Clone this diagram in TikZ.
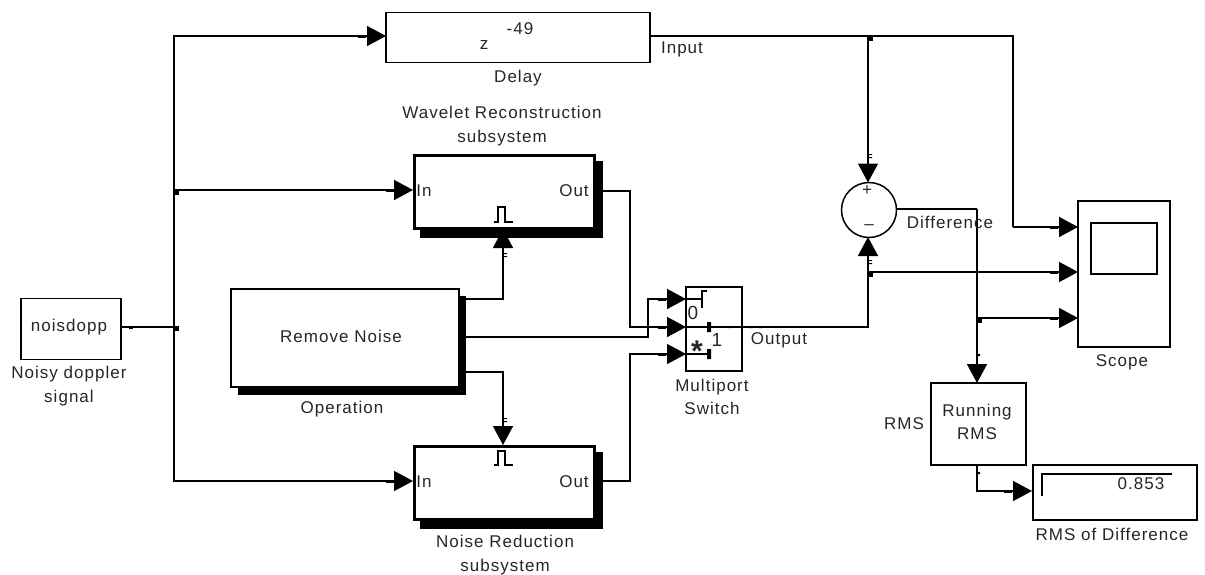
\documentclass[tikz,border=0pt]{standalone}
\usepackage{fontspec}
\setmainfont[LetterSpace=6]{Liberation Sans}
\usetikzlibrary{arrows.meta}
\newcommand{\hmark}[2]{\fill (#1-8,#2) rectangle (#1,#2+2);}
\newcommand{\vmark}[2]{\fill (#1,#2-2) rectangle (#1+4,#2-0.8) (#1,#2+1) rectangle (#1+4,#2+2.2);}
\newcommand{\jdot}[2]{\fill (#1,#2) rectangle (#1+4.5,#2+4.5);}
\tikzset{
  x=1pt,y=-1pt,
  every node/.style={font=\fontsize{17}{23.5}\selectfont,inner sep=0pt,outer sep=0pt,text=black!85},
  blockbox/.style={draw,line width=1.5pt,fill=white,anchor=north west},
  subsysbox/.style={draw,line width=3pt,fill=white,anchor=north west,minimum width=180pt,minimum height=73pt},
  lbl/.style={align=center},
  wire/.style={line width=1.5pt},
  arrowwire/.style={wire,-{Triangle[length=19pt,width=20pt]},shorten >=0pt},
}
\begin{document}
\begin{tikzpicture}
\useasboundingbox (0,0) rectangle (1205,574);
% shadows
\fill (420,161) rectangle (603,238);
\fill (420,452) rectangle (603,529);
\fill (238,296) rectangle (466,395);
% blocks
\node[blockbox,minimum width=100pt,minimum height=61pt] (noisy) at (21,298.5) {};
\node at (69,327) {noisdopp};
\node[blockbox,minimum width=264pt,minimum height=50pt] (delay) at (386,12.5) {};
\node[subsysbox] (wave) at (414.5,155.5) {};
\node[subsysbox] (reduce) at (414.5,446.5) {};
\node[blockbox,minimum width=228pt,minimum height=98pt] (op) at (231,289) {};
\node[blockbox,minimum width=56pt,minimum height=84pt] (sw) at (686,287) {};
\node[draw,circle,line width=1.5pt,fill=white,minimum size=55pt] (sum) at (869,210) {};
\node[blockbox,minimum width=92pt,minimum height=146pt] (scope) at (1078,201) {};
\node[draw,line width=1.5pt,anchor=north west,minimum width=66pt,minimum height=51pt] (screen) at (1091,223) {};
\node[blockbox,minimum width=95pt,minimum height=82pt] (rms) at (931,383) {};
\node[blockbox,minimum width=164pt,minimum height=55pt] (disp) at (1033,465) {};
% named points
\coordinate (jin) at (174,327);
\coordinate (jd) at (174,36);
\coordinate (jw) at (174,190);
\coordinate (jr) at (174,481);
\coordinate (dp) at (868,36);
\coordinate (tr) at (1013,36);
\coordinate (tr2) at (1013,227);
\coordinate (wo) at (630,191);
\coordinate (ro) at (630,481);
\coordinate (mo) at (868,327);
\coordinate (jo) at (868,272);
\coordinate (sd) at (977,209);
\coordinate (js) at (977,318);
\coordinate (ro2) at (977,491);
% connectors
\draw[wire] (noisy.east |- jin) -- (jin);
\draw[arrowwire] (jin) -- (jd) -- (386,36);
\draw[arrowwire] (jw) -- (413,190);
\draw[arrowwire] (jin) -- (jr) -- (413,481);
\draw[wire] (delay.east |- jd) -- (tr) -- (tr2);
\draw[arrowwire] (tr2) -- (scope.west |- tr2);
\draw[arrowwire] (dp) -- (sum.north -| dp);
\draw[arrowwire] (603,191) -- (wo) -- (630,327) -- (686,327);
\draw[arrowwire] (603,481) -- (ro) -- (630,354) -- (686,354);
\draw[arrowwire] (466,337) -- (648,337) -- (648,299) -- (686,299);
\draw[arrowwire] (466,299) -- (503,299) -- (503,229);
\draw[arrowwire] (466,372) -- (503,372) -- (503,445);
\draw[arrowwire] (sw.west |- mo) ++(40,0) -- (mo) -- (868,237);
\draw[wire] (686,327) -- (730,327);
\draw[wire] (686,299) -- (702,299);
\draw[wire] (707,291) -- (702,291) -- (702,308);
\draw[wire] (686,354) -- (710,354);
\draw[arrowwire] (jo) -- (scope.west |- jo);
\draw[arrowwire] (js) -- (scope.west |- js);
\draw[wire] (sum.east |- sd) -- (sd);
\draw[arrowwire] (sd) -- (977,383);
\draw[arrowwire] (rms.south -| ro2) -- (ro2) -- (1032,491);
% junctions and ticks
\jdot{174}{190}\jdot{174}{326}\jdot{868}{36}\jdot{868}{272}\jdot{977}{318}
\hmark{366}{36}\hmark{394}{190}\hmark{394}{481}\hmark{666}{299}\hmark{666}{327}\hmark{666}{354}
\hmark{1058}{227}\hmark{1058}{272}\hmark{1058}{318}\hmark{1012}{491}
\fill (129,327) rectangle (133,329);
\vmark{503}{255}\vmark{503}{420}\vmark{868}{156}\vmark{868}{262}
\fill (977,354) rectangle (980,356) (977,472) rectangle (980,474);
\fill (707,322) rectangle (711,332) (707,349) rectangle (711,359);
\fill (729,326) rectangle (731,328) (749,326) rectangle (752,328) (759,326) rectangle (762,328);
\draw[line width=1.5pt] (1042,496) -- (1042,474) -- (1172,474);
% pulse icons
\draw[line width=1.2pt] (494,222) -- (498,222) -- (498,207) -- (505,207) -- (505,222) -- (513,222);
\draw[line width=1.2pt] (494,465) -- (498,465) -- (498,451) -- (505,451) -- (505,465) -- (513,465);
% text
\node at (484,45) {z};
\node at (520,29) {-49};
\node at (518,78) {Delay};
\node at (682,49) {Input};
\node[lbl] at (69,386) {Noisy doppler\\signal};
\node[lbl] at (502,126) {Wavelet Reconstruction\\subsystem};
\node at (424,191) {In};
\node at (574,191) {Out};
\node at (341,336) {Remove Noise};
\node at (342,409) {Operation};
\node at (424,482) {In};
\node at (574,482) {Out};
\node[lbl] at (505,555) {Noise Reduction\\subsystem};
\node[font=\fontsize{19}{19}\selectfont] at (693,313) {0};
\node[font=\fontsize{19}{19}\selectfont] at (717,340) {1};
\node[font=\fontsize{30}{30}\selectfont\bfseries] at (697,351) {*};
\node at (779,340) {Output};
\node[lbl] at (712,397) {Multiport\\Switch};
\node at (867,191) {+};
\node at (869,227) {–};
\node at (950,222) {Difference};
\node at (1122,362) {Scope};
\node at (904,424) {RMS};
\node[lbl] at (977,422) {Running\\RMS};
\node at (1141,484) {0.853};
\node at (1112,534) {RMS of Difference};
\end{tikzpicture}
\end{document}
